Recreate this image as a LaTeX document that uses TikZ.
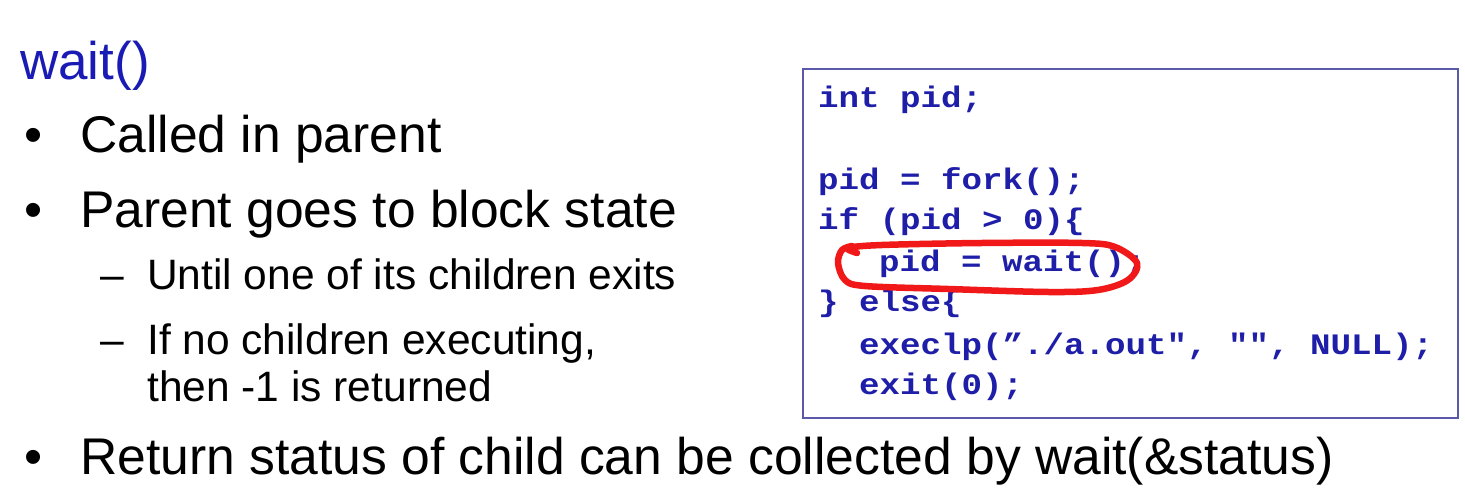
\documentclass[tikz,border=0pt]{standalone}
\usepackage{fontspec}
\setmainfont{Liberation Sans}
\newfontfamily\codefont{Liberation Mono}[FakeStretch=1.15]
\definecolor{titleblue}{HTML}{1A1AB4}
\definecolor{codeblue}{HTML}{1E1EA8}
\definecolor{boxline}{HTML}{5A5AA8}
\definecolor{marker}{HTML}{F01818}
\begin{document}
\begin{tikzpicture}[x=1pt,y=-1pt,
  body/.style={anchor=base west, inner sep=0pt, font=\fontsize{51.6}{60}\selectfont},
  sub/.style={anchor=base west, inner sep=0pt, font=\fontsize{42.5}{48}\selectfont},
  code/.style={anchor=base west, inner sep=0pt, text=codeblue, font=\codefont\bfseries\fontsize{29.7}{41}\selectfont},
  codebox/.style={draw=boxline, line width=1.6pt, inner sep=0pt, anchor=north west, minimum width=655pt, minimum height=349pt},
  highlight/.style={draw=marker, line width=6.5pt, line join=round, line cap=round}
]
\useasboundingbox[fill=white] (0,0) rectangle (1465,502);
% left text
\node[body, text=titleblue, font=\fontsize{53}{60}\selectfont] (title) at (20,80) {wait()};
\node[body] (d1) at (24,153) {•};
\node[body] (t1) at (80,153) {Called in parent};
\node[body] (d2) at (24,228) {•};
\node[body] (t2) at (80,228) {Parent goes to block state};
\node[sub] (s1d) at (100,290) {–};
\node[sub] (s1) at (147,290) {Until one of its children exits};
\node[sub] (s2d) at (100,355) {–};
\node[sub] (s2) at (147,355) {If no children executing,};
\node[sub] (s2b) at (147,402) {then -1 is returned};
\node[body] (d3) at (24,475) {•};
\node[body] (t3) at (80,475) {Return status of child can be collected by wait(\&status)};
% code box
\node[codebox] (box) at (802,68) {};
\node[code] (c1) at (818,108) {int pid;};
\node[code] (c2) at (818,190) {pid = fork();};
\node[code] (c3) at (818,230) {if (pid > 0)\{};
\node[code] (c4) at (879,272) {pid = wait();};
\node[code] (c5) at (818,312) {\} else\{};
\node[code] (c6) at (859,355) {execlp(”./a.out", "", NULL);};
\node[code] (c7) at (859,395) {exit(0);};
% red freehand loop
\draw[highlight] plot[smooth, tension=0.55] coordinates {
  (857,253) (848,248) (882,245) (982,243) (1082,243) (1115,247) (1137,263)
  (1128,280) (1098,290) (1048,292) (948,289) (865,286) (845,280) (838,263) (842,250) (852,246)};
\end{tikzpicture}
\end{document}
